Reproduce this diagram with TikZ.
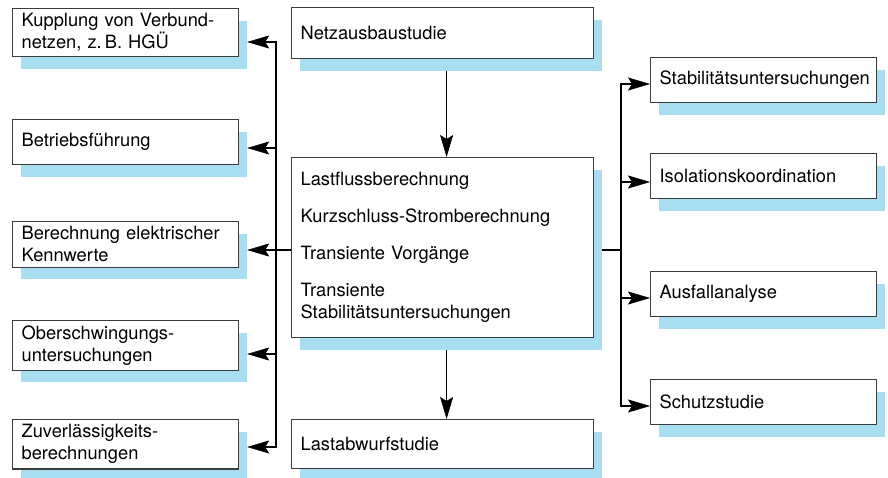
\documentclass[tikz,border=0pt]{standalone}
\usepackage{fontspec}
\setmainfont{TeX Gyre Heros}
\usetikzlibrary{arrows.meta, shadows}

\definecolor{shadowblue}{RGB}{168,222,242}
\definecolor{boxline}{RGB}{60,60,60}

\begin{document}
\begin{tikzpicture}[x=1pt,y=-1pt,
  line width=1.2pt,
  link/.style={-{Stealth[length=22pt,width=13pt,inset=4pt,line width=0.5pt]}},
  study box/.style={rectangle,draw=boxline,fill=white,align=left,anchor=north west,
    inner xsep=9pt,inner ysep=5pt,minimum height=45pt,
    font=\fontsize{18.3}{22}\selectfont,
    drop shadow={shadow xshift=8pt,shadow yshift=-12pt,fill=shadowblue,opacity=1}},
  side box/.style={study box,text width=208pt},
  main box/.style={study box,text width=284pt}]

  \useasboundingbox (0,0) rectangle (888,477);

  % linke Spalte
  \node[side box] (kupp) at (12,8) {Kupplung von Verbund-\\netzen, z.\,B. HGÜ};
  \node[side box] (betr) at (12,119) {Betriebsführung};
  \node[side box] (bere) at (12,221) {Berechnung elektrischer\\Kennwerte};
  \node[side box] (ober) at (12,320) {Oberschwingungs-\\untersuchungen};
  \node[side box] (zuve) at (12,419) {Zuverlässigkeits-\\berechnungen};

  % Mitte
  \node[main box, minimum height=51pt] (netz) at (291,7) {Netzausbaustudie};
  \node[main box, minimum height=180pt] (calc) at (291,157)
    {Lastflussberechnung\\[15pt]Kurzschluss-Stromberechnung\\[15pt]Transiente Vorgänge\\[15pt]Transiente\\Stabilitätsuntersuchungen};
  \node[main box, minimum height=49pt] (last) at (291,419) {Lastabwurfstudie};

  % rechte Spalte
  \node[side box] (stab) at (650,57) {Stabilitätsuntersuchungen};
  \node[side box] (isol) at (650,153) {Isolationskoordination};
  \node[side box] (ausf) at (650,271) {Ausfallanalyse};
  \node[side box] (schu) at (650,379) {Schutzstudie};

  \draw[link] ([xshift=4pt,yshift=-12pt]netz.south) -- ([xshift=4pt]calc.north);
  \draw[link] ([xshift=4pt,yshift=-12pt]calc.south) -- ([xshift=4pt]last.north);

  % Verteiler links
  \coordinate (lbus) at (276,250);
  \draw (calc.west |- lbus) -- (lbus);
  \draw[line cap=rect] (lbus |- 0,42) -- (lbus |- 0,447);
  \foreach \n/\y in {kupp/42,betr/148,bere/250,ober/354,zuve/447}
    \draw[link] (lbus |- 0,\y) -- ([xshift=8pt]\n.east |- 0,\y);

  % Verteiler rechts
  \coordinate (rbus) at (621,250);
  \draw ([xshift=8pt]calc.east |- rbus) -- (rbus);
  \draw[line cap=rect] (rbus |- 0,84) -- (rbus |- 0,406);
  \foreach \n/\y in {stab/84,isol/182,ausf/298,schu/406}
    \draw[link] (rbus |- 0,\y) -- (\n.west |- 0,\y);
\end{tikzpicture}
\end{document}
